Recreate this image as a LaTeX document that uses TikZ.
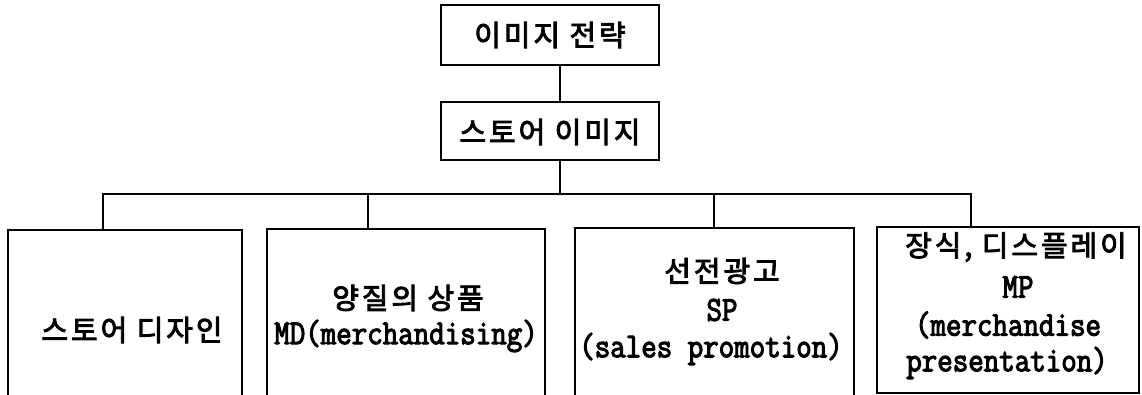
\documentclass[tikz,border=0pt]{standalone}
\usepackage{fontspec}
\newfontfamily\krfont[LetterSpace=10, FakeBold=3]{Noto Sans CJK KR}
\newfontfamily\latfont[FakeStretch=0.86, FakeBold=3]{Latin Modern Mono}
\tikzset{
  boxshape/.style={draw, line width=2pt, rectangle, inner sep=0pt},
  kt/.style={font=\krfont\fontsize{29}{29}\selectfont, inner sep=0pt},
  lt/.style={font=\latfont\fontsize{35}{35}\selectfont, inner sep=0pt},
  wire/.style={line width=2pt, line join=miter}
}
\begin{document}
\begin{tikzpicture}[x=1pt, y=-1pt]
\useasboundingbox (0,0) rectangle (1142,395);
\clip (0,0) rectangle (1142,395);
% boxes
\node[boxshape, minimum width=218pt, minimum height=60pt] (top) at (550,35) {};
\node[boxshape, minimum width=218pt, minimum height=58pt] (mid) at (550,131) {};
\node[boxshape, minimum width=234pt, minimum height=180pt] (b1) at (125,320) {};
\node[boxshape, minimum width=278pt, minimum height=180pt] (b2) at (406,319) {};
\node[boxshape, minimum width=279pt, minimum height=180pt] (b3) at (714,318) {};
\node[boxshape, minimum width=262pt, minimum height=166pt] (b4) at (1008,310) {};
% texts
\node[kt] (t0) at (550,35) {이미지 전략};
\node[kt] (t1) at (550,132) {스토어 이미지};
\node[kt] (t2) at (132,330) {스토어 디자인};
\node[kt] (t3a) at (408,298) {양질의 상품};
\node[lt] (t3b) at (406,336) {MD(merchandising)};
\node[kt] (t4a) at (722,271) {선전광고};
\node[lt] (t4b) at (722,310) {SP};
\node[lt] (t4c) at (711,349) {(sales promotion)};
\node[kt] (t5a) at (1016,247) {장식, 디스플레이};
\node[lt] (t5b) at (1018,287) {MP};
\node[lt] (t5c) at (1008,325) {(merchandise};
\node[lt] (t5d) at (1007,363) {presentation)};
% connectors
\coordinate (cx) at (560,0);
\coordinate (jn) at (560,194);
\coordinate (hl) at (103,194);
\coordinate (d2) at (368,194);
\coordinate (d3) at (714,194);
\coordinate (hr) at (971,194);
\draw[wire] (top.south -| cx) -- (mid.north -| cx);
\draw[wire] (mid.south -| cx) -- (jn);
\draw[wire] (b1.north -| hl) -- (hl) -- (hr) -- (b4.north -| hr);
\draw[wire] (d2) -- (b2.north -| d2);
\draw[wire] (d3) -- (b3.north -| d3);
\end{tikzpicture}
\end{document}
